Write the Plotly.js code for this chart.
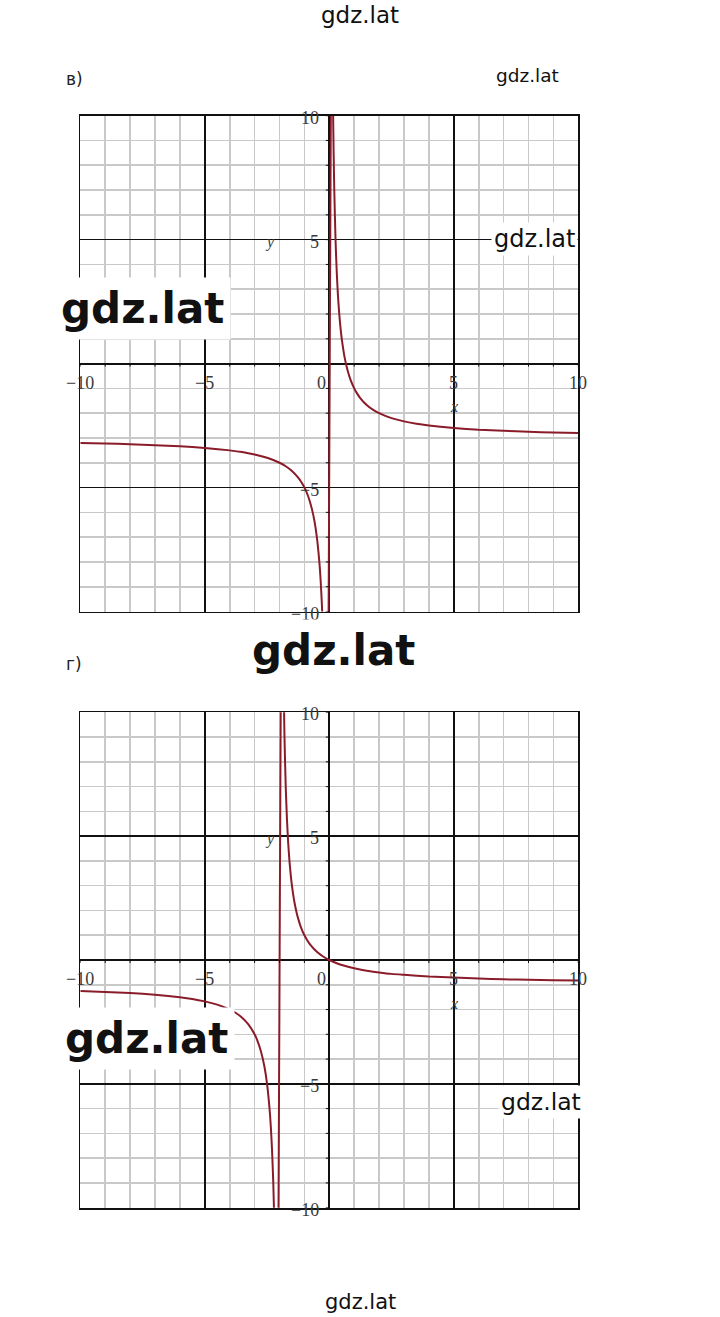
<!DOCTYPE html>
<html>
<head>
<meta charset="utf-8">
<script src="https://cdn.plot.ly/plotly-3.0.1.min.js"></script>
<style>html,body{margin:0;padding:0;background:#fff;}#chart{width:720px;height:1317px;}</style>
</head>
<body>
<div id="chart"></div>
<script>
// Panel "в)" curve points (read from the picture)
const curveBX = [-10, -9, -8, -7, -6, -5, -4, -3.5, -3, -2.5, -2.25, -2, -1.75, -1.5, -1.25, -1.1, -1, -0.9, -0.8, -0.7, -0.6, -0.5, -0.4, -0.35, -0.3, -0.25, -0.2, -0.15, -0.1, 0.1, 0.12, 0.15, 0.175, 0.2, 0.25, 0.3, 0.35, 0.4, 0.45, 0.5, 0.55, 0.6, 0.65, 0.7, 0.75, 0.85, 1, 1.1, 1.25, 1.5, 1.75, 2, 2.25, 2.5, 3, 3.5, 4, 5, 6, 7, 8, 9, 10];
const curveBY = [-3.2, -3.22, -3.25, -3.29, -3.33, -3.4, -3.5, -3.57, -3.67, -3.8, -3.89, -4, -4.14, -4.33, -4.6, -4.82, -5, -5.22, -5.5, -5.86, -6.33, -7, -8, -8.71, -9.67, -11, -13, -16.3, -23, 17, 13.67, 10.3, 8.43, 7, 5, 3.67, 2.71, 2, 1.44, 1, 0.64, 0.33, 0.08, -0.14, -0.33, -0.65, -1, -1.18, -1.4, -1.67, -1.86, -2, -2.11, -2.2, -2.33, -2.43, -2.5, -2.6, -2.67, -2.71, -2.75, -2.78, -2.8];

// Panel "г)" curve points (read from the picture)
const curveGX = [-10, -9, -8, -7, -6, -5.5, -5, -4.5, -4.25, -4, -3.75, -3.5, -3.25, -3, -2.9, -2.75, -2.6, -2.5, -2.4, -2.35, -2.3, -2.25, -2.2, -2.15, -2.1, -1.9, -1.85, -1.8, -1.75, -1.7, -1.65, -1.6, -1.55, -1.5, -1.4, -1.3, -1.25, -1.15, -1, -0.85, -0.75, -0.5, -0.25, 0, 0.25, 0.5, 0.75, 1, 1.5, 2, 2.5, 3, 4, 5, 6, 7, 8, 9, 10];
const curveGY = [-1.25, -1.29, -1.33, -1.4, -1.5, -1.57, -1.67, -1.8, -1.89, -2, -2.14, -2.33, -2.6, -3, -3.22, -3.67, -4.33, -5, -6, -6.71, -7.67, -9, -11, -14.3, -21, 19, 12.3, 9, 7, 5.67, 4.71, 4, 3.44, 3, 2.33, 1.86, 1.67, 1.35, 1, 0.74, 0.6, 0.33, 0.14, 0, -0.11, -0.2, -0.27, -0.33, -0.43, -0.5, -0.56, -0.6, -0.67, -0.71, -0.75, -0.78, -0.8, -0.82, -0.83];

// Tick labels
const xTickVals = [-10, -5, 0, 5, 10];
const xTickText = ["\u221210", "\u22125", "0", "5", "10"];
const yTickVals = [10, 5, -5, -10];
const yTickText = ["10", "5", "\u22125", "\u221210"];

const panelLabels = ["\u0432)", "\u0433)"];
const watermark = "gdz.lat";

const W = 720, H = 1317;
const px = v => v / W;
const py = v => 1 - v / H;

const lineColor = "rgb(138,28,42)";

const traces = [
  {x: curveBX, y: curveBY, type: "scatter", mode: "lines", line: {color: lineColor, width: 2, shape: "spline", smoothing: 0.6}, xaxis: "x", yaxis: "y", hoverinfo: "skip"},
  {x: curveGX, y: curveGY, type: "scatter", mode: "lines", line: {color: lineColor, width: 2, shape: "spline", smoothing: 0.6}, xaxis: "x2", yaxis: "y2", hoverinfo: "skip"}
];

function axis(domain, anchor) {
  return {
    domain: domain, anchor: anchor, range: [-10, 10], fixedrange: true,
    dtick: 5, tick0: 0, showgrid: true, gridcolor: "#111", gridwidth: 1.6,
    minor: {dtick: 1, tick0: 0, showgrid: true, gridcolor: "#c9c9c9", gridwidth: 1.6},
    zeroline: true, zerolinecolor: "#111", zerolinewidth: 1.8,
    showline: true, linecolor: "#111", linewidth: 1.8, mirror: true,
    showticklabels: false, ticks: ""
  };
}

const dom1x = [px(80.3), px(578.3)];
const dom1y = [py(611.5), py(115.7)];
const dom2y = [py(1207.7), py(712.3)];

const annotations = [];
const shapes = [];
const serif = {family: "Liberation Serif, Times New Roman, serif", size: 18, color: "#3a3a3a"};

[["x", "y"], ["x2", "y2"]].forEach(([xr, yr], k) => {
  xTickVals.forEach((v, i) => {
    annotations.push({x: v === 0 ? -0.3 : v, y: 0, xref: xr, yref: yr, text: xTickText[i], showarrow: false,
      yshift: -19, xanchor: "center", yanchor: "middle", font: serif});
  });
  yTickVals.forEach((v, i) => {
    annotations.push({x: -0.35, y: v, xref: xr, yref: yr, text: yTickText[i], showarrow: false,
      xanchor: "right", yanchor: "middle", yshift: -2, font: serif});
  });
  annotations.push({x: -2.4, y: 4.9, xref: xr, yref: yr, text: "<i>y</i>", showarrow: false, font: {family: serif.family, size: 16, color: "#3a3a3a"}});
  annotations.push({x: 5, y: -1.75, xref: xr, yref: yr, text: "<i>x</i>", showarrow: false, font: {family: serif.family, size: 16, color: "#3a3a3a"}});
  for (let t = -10; t <= 10; t++) {
    if (t === 0) continue;
    shapes.push({type: "line", xref: xr, yref: yr, x0: t, x1: t, y0: 0, y1: -0.12, line: {color: "#111", width: 1}});
    shapes.push({type: "line", xref: xr, yref: yr, x0: 0, x1: -0.14, y0: t, y1: t, line: {color: "#111", width: 1}});
  }
});

// panel labels
annotations.push({x: px(64), y: py(67), xref: "paper", yref: "paper", text: panelLabels[0], showarrow: false, font: {family: "DejaVu Sans, sans-serif", size: 17, color: "#222"}});
annotations.push({x: px(64), y: py(664), xref: "paper", yref: "paper", text: panelLabels[1], showarrow: false, font: {family: "DejaVu Sans, sans-serif", size: 17, color: "#222"}});

// watermarks
const wm = [
  [360, 15, 23, false],
  [527, 75, 18.5, false],
  [534, 239, 24, false],
  [142, 308, 42, true],
  [333, 650, 42, true],
  [146, 1038, 42, true],
  [541, 1102, 23.5, false],
  [360, 1302, 21, false]
];
wm.forEach(([x, y, s, b]) => {
  annotations.push({x: px(x), y: py(y), xref: "paper", yref: "paper", text: b ? "<b>" + watermark + "</b>" : watermark,
    showarrow: false, xanchor: "center", yanchor: "middle", bgcolor: "#fff", borderpad: b ? 6 : 2,
    font: {family: "DejaVu Sans, sans-serif", size: s, color: "#111"}});
});

const layout = {
  width: W, height: H, margin: {l: 0, r: 0, t: 0, b: 0}, showlegend: false,
  paper_bgcolor: "#fff", plot_bgcolor: "#fff",
  xaxis: axis(dom1x, "y"), yaxis: axis(dom1y, "x"),
  xaxis2: axis(dom1x, "y2"), yaxis2: axis(dom2y, "x2"),
  annotations: annotations, shapes: shapes
};

Plotly.newPlot("chart", traces, layout, {staticPlot: true, displayModeBar: false});
</script>
</body>
</html>
